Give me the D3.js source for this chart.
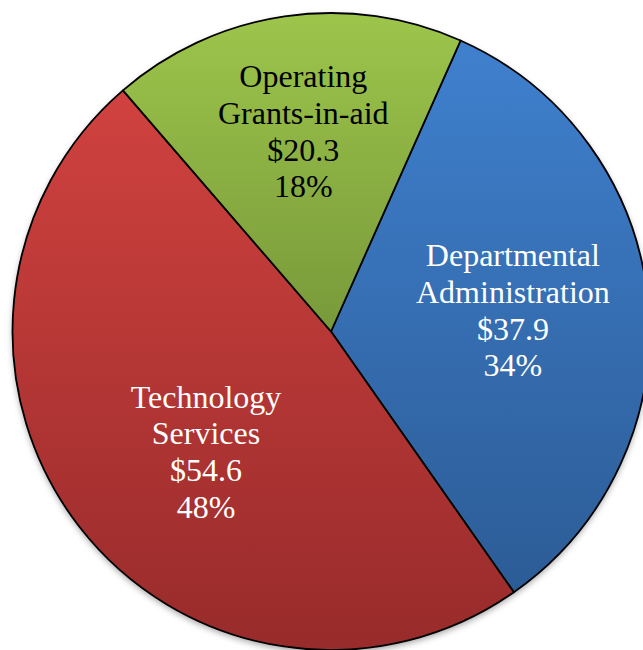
<!DOCTYPE html>
<html>
<head>
<meta charset="utf-8">
<script src="https://cdn.jsdelivr.net/npm/d3@7"></script>
<style>
  html, body { margin: 0; padding: 0; background: #fff; }
  svg { display: block; }
</style>
</head>
<body>
<svg id="chart" width="643" height="650"></svg>
<script>
// Budget by program area ($ millions)
const categories = ["Departmental Administration", "Technology Services", "Operating Grants-in-aid"];
const labelLines = [["Departmental", "Administration"], ["Technology", "Services"], ["Operating", "Grants-in-aid"]];
const amounts = [37.9, 54.6, 20.3];
const percentLabels = ["34%", "48%", "18%"];

// Slice styling: vertical gradient from light top to dark bottom
const topColors = ["#3f80ce", "#d0423f", "#9dc54b"];
const bottomColors = ["#2c5c96", "#982b2b", "#78993a"];
const textColors = ["#ffffff", "#ffffff", "#000000"];
// Where each label sits: fraction along the slice's sweep and fraction of the radius
const labelSweep = [0.49, 0.466, 0.508];
const labelRadius = [0.575, 0.544, 0.635];

const width = 643, height = 650;
const cx = 331, cy = 331.5, R = 318.5;
const fontSize = 32, lineGap = 36.7;

const svg = d3.select("#chart");
const defs = svg.append("defs");

const shadow = defs.append("filter").attr("id", "shadow")
  .attr("x", "-10%").attr("y", "-10%").attr("width", "120%").attr("height", "125%");
shadow.append("feDropShadow")
  .attr("dx", 0).attr("dy", 3).attr("stdDeviation", 3)
  .attr("flood-color", "#000").attr("flood-opacity", 0.35);

categories.forEach((c, i) => {
  const g = defs.append("linearGradient").attr("id", "grad" + i)
    .attr("x1", 0).attr("y1", 0).attr("x2", 0).attr("y2", 1);
  g.append("stop").attr("offset", "0%").attr("stop-color", topColors[i]);
  g.append("stop").attr("offset", "100%").attr("stop-color", bottomColors[i]);
});

const startDeg = 24;
const pie = d3.pie().sort(null).value(d => d)
  .startAngle(startDeg * Math.PI / 180)
  .endAngle(startDeg * Math.PI / 180 + 2 * Math.PI);
const arcs = pie(amounts);
const arc = d3.arc().innerRadius(0).outerRadius(R);

const g = svg.append("g").attr("transform", `translate(${cx},${cy})`);

// Soft shadow under the whole disc
g.append("circle").attr("r", R).attr("fill", "#fff").attr("filter", "url(#shadow)");

g.selectAll("path.slice").data(arcs).join("path")
  .attr("class", "slice")
  .attr("d", arc)
  .attr("fill", (d, i) => `url(#grad${i})`)
  .attr("stroke", "#000")
  .attr("stroke-width", 1.8)
  .attr("stroke-linejoin", "round");

const fmt = d3.format("$.1f");

const labels = g.selectAll("text.label").data(arcs).join("text")
  .attr("class", "label")
  .attr("font-family", "'Liberation Serif', 'Times New Roman', serif")
  .attr("font-size", fontSize)
  .attr("text-anchor", "middle")
  .attr("fill", (d, i) => textColors[i])
  .attr("transform", (d, i) => {
    const a = d.startAngle + (d.endAngle - d.startAngle) * labelSweep[i];
    const r = R * labelRadius[i];
    return `translate(${r * Math.sin(a)},${-r * Math.cos(a)})`;
  });

labels.each(function(d, i) {
  const lines = [...labelLines[i], fmt(amounts[i]), percentLabels[i]];
  const t = d3.select(this);
  lines.forEach((line, k) => {
    t.append("tspan")
      .attr("x", 0)
      .attr("y", (k - (lines.length - 1) / 2) * lineGap)
      .attr("dy", "0.35em")
      .text(line);
  });
});
</script>
</body>
</html>
